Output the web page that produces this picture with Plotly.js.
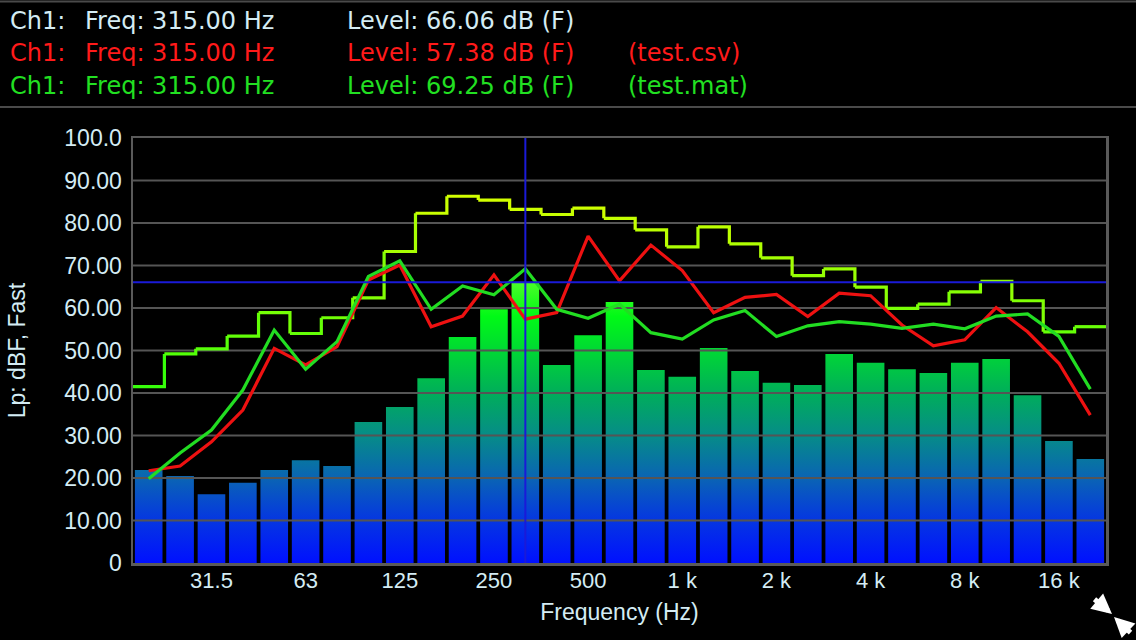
<!DOCTYPE html>
<html><head><meta charset="utf-8">
<script src="https://cdn.plot.ly/plotly-3.0.1.min.js"></script>
<style>html,body{margin:0;padding:0;background:#000;overflow:hidden}#chart{width:1136px;height:640px}</style>
</head><body><div id="chart"></div>
<script>
// ---- data ----
const bands = ['20','25','31.5','40','50','63','80','100','125','160','200','250','315','400','500','630','800','1k','1.25k','1.6k','2k','2.5k','3.15k','4k','5k','6.3k','8k','10k','12.5k','16k','20k'];
const barLevels = [21.9,20.5,16.2,18.9,21.9,24.2,22.8,33.2,36.7,43.5,53.2,59.7,66.06,46.6,53.6,61.4,45.4,43.8,50.6,45.2,42.4,41.9,49.2,47.1,45.6,44.7,47.1,48.0,39.5,28.7,24.5];
const maxLevels = [41.5,49.2,50.4,53.4,58.9,54.0,57.7,62.4,73.3,82.3,86.3,85.4,83.2,82.0,83.5,81.1,78.4,74.4,79.1,75.1,71.8,67.6,69.2,64.9,59.9,60.9,63.8,66.3,61.7,54.4,55.6];
const csvLevels = [21.7,22.8,28.5,36.0,50.5,46.6,50.9,66.6,70.1,55.6,58.1,67.8,57.38,58.9,76.9,66.4,74.8,68.8,58.9,62.5,63.2,58.0,63.5,62.9,56.0,51.1,52.5,60.1,54.4,47.0,34.8];
const matLevels = [19.8,25.9,31.3,40.7,54.8,45.6,52.1,67.4,71.1,59.7,65.2,63.1,69.25,59.7,57.6,60.9,54.2,52.7,57.2,59.4,53.3,55.8,56.8,56.2,55.2,56.2,55.1,58.1,58.6,53.3,40.9];
const xTickBands = ['31.5','63','125','250','500','1k','2k','4k','8k','16k'];
const xTickLabels = ['31.5','63','125','250','500','1 k','2 k','4 k','8 k','16 k'];
const yTickVals = [0,10,20,30,40,50,60,70,80,90,100];
const yTickLabels = ['0','10.00','20.00','30.00','40.00','50.00','60.00','70.00','80.00','90.00','100.0'];
const cursorBand = '315';
const cursorLevel = 66.06;
const headerRows = [
  {ch:'Ch1:', freq:'Freq: 315.00 Hz', level:'Level: 66.06 dB (F)', file:''},
  {ch:'Ch1:', freq:'Freq: 315.00 Hz', level:'Level: 57.38 dB (F)', file:'(test.csv)'},
  {ch:'Ch1:', freq:'Freq: 315.00 Hz', level:'Level: 69.25 dB (F)', file:'(test.mat)'}
];

// ---- layout helpers ----
const W=1136,H=640,PL=133,PR=1106,PT=138,PB=563;
const px2x = p => (p-PL)/(PR-PL);
const py2y = p => (PB-p)/(PB-PT);
const txtCol = '#d4ecf4';
const rowCols = [txtCol,'#ff1a1a','#22e022'];
const FONT = 'Liberation Sans, Arial, Helvetica, sans-serif';
const HFONT = 'DejaVu Sans, Liberation Sans, sans-serif';
const idx = b => bands.indexOf(b);
const N = bands.length;

// bars as gradient-filled polygons (gradient fixed to the level axis)
const hw = 0.44;
const bx=[], by=[];
barLevels.forEach((v,i)=>{ bx.push(i-hw,i-hw,i+hw,i+hw,null); by.push(0,v,v,0,null); });
const traces = [];
traces.push({x:bx,y:by,type:'scatter',mode:'lines',line:{width:0},fill:'toself',
  fillgradient:{type:'vertical',start:0,stop:70,
    colorscale:[[0,'#0010ff'],[10/70,'#0536e2'],[20/70,'#0a64b4'],[30/70,'#068c88'],[40/70,'#00ae5a'],[50/70,'#00d834'],[58/70,'#00fa16'],[1,'#70ff30']]},
  hoverinfo:'skip',showlegend:false});

// gridlines drawn above bars
const gx=[],gy=[];
yTickVals.slice(1,-1).forEach(t=>{gx.push(-0.5,N-0.5,null);gy.push(t,t,null);});
traces.push({x:gx,y:gy,type:'scatter',mode:'lines',line:{color:'#555555',width:2},hoverinfo:'skip',showlegend:false});

// max-hold step line, coloured by level
function stepColor(v){const t=Math.max(0,Math.min(1,(v-40)/45));return 'rgb('+Math.round(50+160*t)+',255,'+Math.round(10-10*t)+')';}
maxLevels.forEach((v,i)=>{
  const xs=[i-0.5,i+0.5], ys=[v,v];
  if(i<N-1){xs.push(i+0.5);ys.push(maxLevels[i+1]);}
  traces.push({x:xs,y:ys,type:'scatter',mode:'lines',line:{color:stepColor(v),width:3.2},hoverinfo:'skip',showlegend:false});
});

const centers = bands.map((b,i)=>i);
traces.push({x:centers,y:csvLevels,type:'scatter',mode:'lines',name:'test.csv',line:{color:'#ee1111',width:3.2},showlegend:false});
traces.push({x:centers,y:matLevels,type:'scatter',mode:'lines',name:'test.mat',line:{color:'#22dd22',width:3.2},showlegend:false});

// cursor
traces.push({x:[idx(cursorBand),idx(cursorBand)],y:[0,100],type:'scatter',mode:'lines',line:{color:'#1a1ad8',width:2},hoverinfo:'skip',showlegend:false});
traces.push({x:[-0.5,N-0.5],y:[cursorLevel,cursorLevel],type:'scatter',mode:'lines',line:{color:'#1a1ad8',width:2},hoverinfo:'skip',showlegend:false});

// header annotations
const annotations=[];
const rowY=[21,53,86], colX=[8,83,345,626];
headerRows.forEach((r,k)=>{
  [r.ch,r.freq,r.level,r.file].forEach((t,c)=>{
    if(!t) return;
    annotations.push({xref:'paper',yref:'paper',x:px2x(colX[c]),y:py2y(rowY[k]),xanchor:'left',yanchor:'middle',
      text:t,showarrow:false,font:{family:HFONT,size:24,color:rowCols[k]}});
  });
});
// collapse icon arrows
annotations.push({xref:'paper',yref:'paper',x:px2x(1112),y:py2y(614),ax:-19,ay:-16,text:'',showarrow:true,arrowhead:2,arrowsize:0.8,arrowwidth:5,arrowcolor:'#ffffff',standoff:0});
annotations.push({xref:'paper',yref:'paper',x:px2x(1114),y:py2y(617),ax:18,ay:17,text:'',showarrow:true,arrowhead:2,arrowsize:0.8,arrowwidth:5,arrowcolor:'#ffffff',standoff:0});

const shapes=[
  {type:'line',xref:'paper',yref:'paper',x0:px2x(0),x1:px2x(W),y0:py2y(1.5),y1:py2y(1.5),line:{color:'#4a4a4a',width:2}},
  {type:'line',xref:'paper',yref:'paper',x0:px2x(0),x1:px2x(W),y0:py2y(107),y1:py2y(107),line:{color:'#4a4a4a',width:2}}
];

const layout={
  width:W,height:H,paper_bgcolor:'#000',plot_bgcolor:'#000',
  margin:{l:PL,r:W-PR,t:PT,b:H-PB,pad:0},
  font:{family:FONT,color:txtCol,size:23},
  showlegend:false,hovermode:false,
  xaxis:{range:[-0.5,N-0.5],tickmode:'array',tickvals:xTickBands.map(idx),ticktext:xTickLabels,
    showgrid:false,zeroline:false,showline:true,mirror:true,linecolor:'#5a5a5a',linewidth:2.5,
    ticks:'',ticklabelstandoff:-4,tickfont:{size:22,color:txtCol},
    title:{text:'Frequency (Hz)',font:{size:23,color:txtCol},standoff:12}},
  yaxis:{range:[0,100],tickmode:'array',tickvals:yTickVals,ticktext:yTickLabels,
    showgrid:false,zeroline:false,showline:true,mirror:true,linecolor:'#5a5a5a',linewidth:2.5,
    ticks:'',ticklabelstandoff:4,tickfont:{size:23,color:txtCol},
    title:{text:'Lp: dBF, Fast',font:{size:23,color:txtCol},standoff:33}},
  annotations:annotations,shapes:shapes
};
Plotly.newPlot('chart',traces,layout,{displayModeBar:false,staticPlot:true});
</script></body></html>
